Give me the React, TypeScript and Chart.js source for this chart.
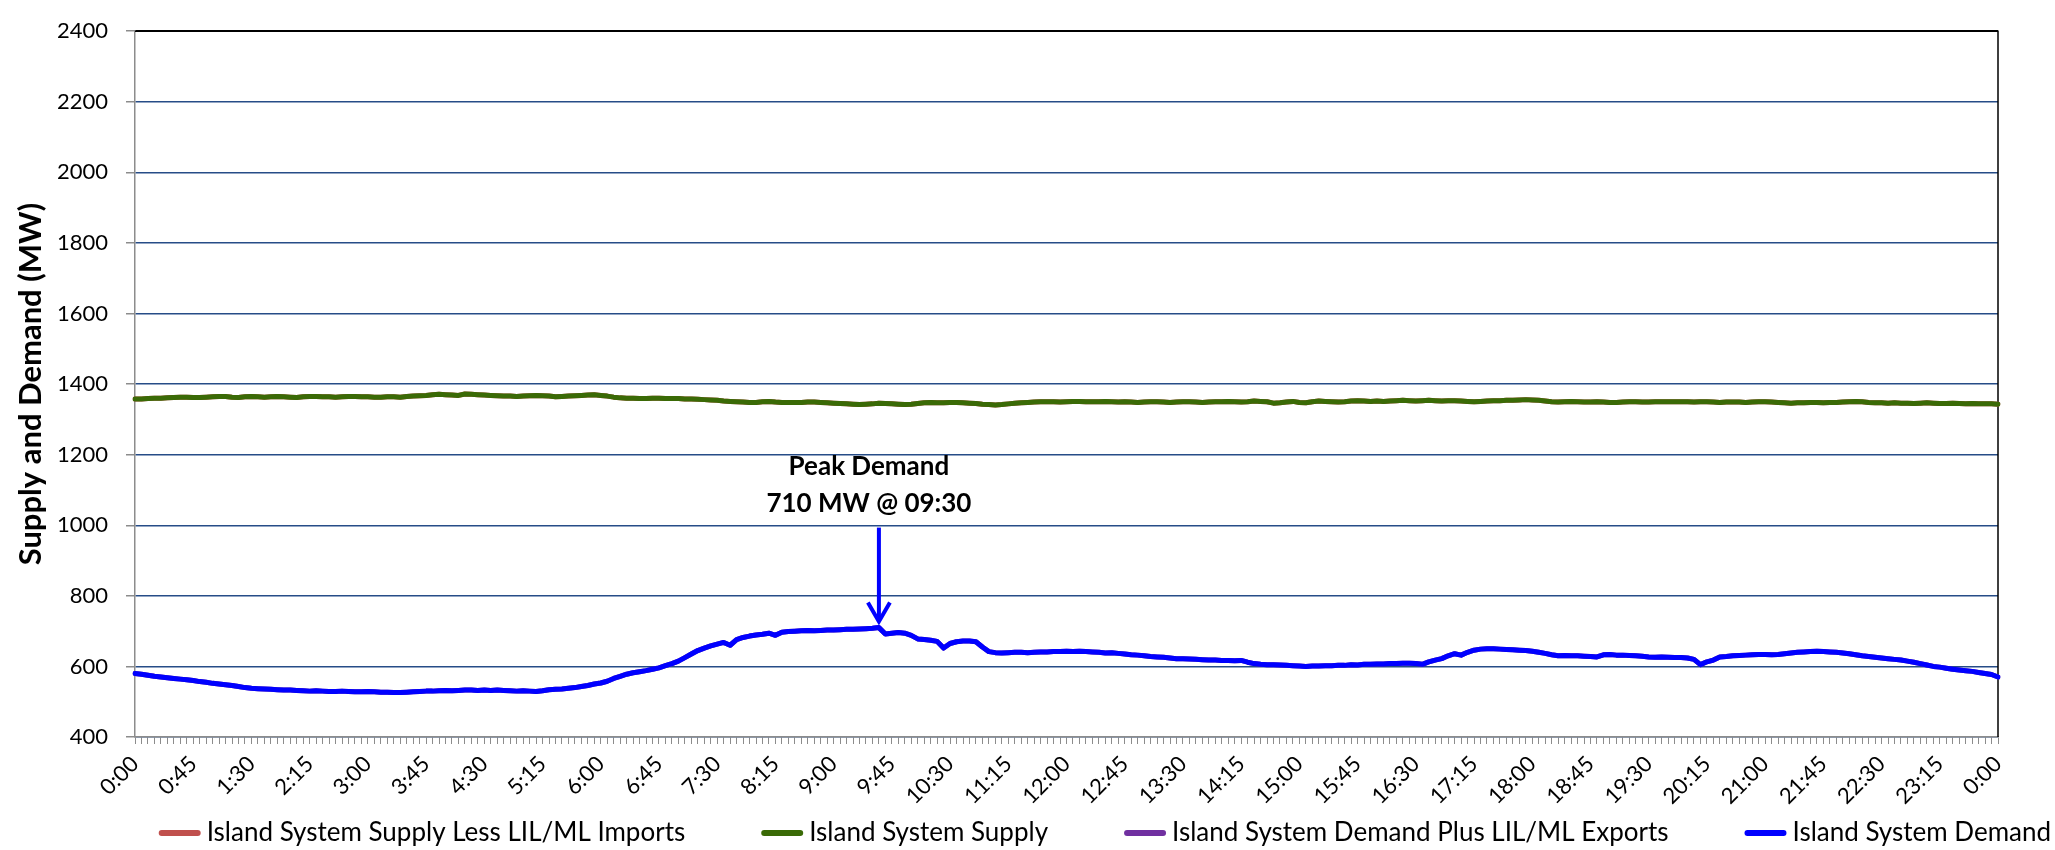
import React, { useEffect, useRef } from 'react';
import { Chart, registerables } from 'chart.js';

Chart.register(...registerables);

const FONT = "Lato, 'Noto Sans', sans-serif";

const SERIES_NAMES = [
  'Island System Supply Less LIL/ML Imports',
  'Island System Supply',
  'Island System Demand Plus LIL/ML Exports',
  'Island System Demand',
];
const SERIES_COLORS = ['#C0504D', '#3A6A06', '#7030A0', '#0000FF'];

const TICK_LABELS = [
  '0:00', '0:45', '1:30', '2:15', '3:00', '3:45', '4:30', '5:15', '6:00', '6:45', '7:30',
  '8:15', '9:00', '9:45', '10:30', '11:15', '12:00', '12:45', '13:30', '14:15', '15:00',
  '15:45', '16:30', '17:15', '18:00', '18:45', '19:30', '20:15', '21:00', '21:45', '22:30',
  '23:15', '0:00',
];
const LABEL_EVERY = 9; // one label every 45 minutes (9 five-minute steps)

const Y_MIN = 400;
const Y_MAX = 2400;
const Y_STEP = 200;
const Y_TITLE = 'Supply and Demand (MW)';

const PEAK_TITLE = 'Peak Demand';
const PEAK_TEXT = '710 MW @ 09:30';

// Five-minute values, one row per hour (12 per row) plus the closing midnight value.
const SUPPLY = [
  1358, 1358, 1359, 1360, 1360, 1361, 1362, 1363, 1363, 1362, 1362, 1363,
  1364, 1365, 1365, 1363, 1362, 1364, 1365, 1364, 1363, 1364, 1365, 1364,
  1363, 1362, 1364, 1365, 1365, 1364, 1364, 1363, 1364, 1365, 1365, 1364,
  1364, 1363, 1363, 1364, 1364, 1363, 1365, 1366, 1367, 1368, 1370, 1371,
  1370, 1369, 1368, 1372, 1371, 1370, 1369, 1368, 1367, 1366, 1366, 1365,
  1366, 1367, 1368, 1367, 1366, 1364, 1365, 1366, 1367, 1368, 1369, 1370,
  1368, 1366, 1363, 1361, 1360, 1360, 1359, 1359, 1360, 1360, 1359, 1359,
  1359, 1358, 1358, 1357, 1356, 1355, 1354, 1352, 1351, 1350, 1349, 1348,
  1348, 1350, 1351, 1349, 1348, 1348, 1348, 1348, 1349, 1349, 1348, 1347,
  1346, 1345, 1344, 1343, 1342, 1343, 1344, 1346, 1345, 1344, 1343, 1342,
  1343, 1345, 1347, 1348, 1347, 1347, 1348, 1348, 1347, 1346, 1345, 1343,
  1342, 1341, 1342, 1344, 1346, 1347, 1348, 1349, 1350, 1350, 1350, 1349,
  1350, 1351, 1351, 1350, 1350, 1350, 1351, 1350, 1349, 1350, 1349, 1348,
  1349, 1350, 1350, 1349, 1348, 1349, 1350, 1350, 1349, 1348, 1349, 1350,
  1350, 1351, 1350, 1349, 1350, 1352, 1351, 1350, 1346, 1347, 1349, 1351,
  1348, 1347, 1350, 1352, 1351, 1350, 1349, 1350, 1352, 1353, 1352, 1351,
  1352, 1351, 1352, 1353, 1354, 1353, 1352, 1353, 1354, 1353, 1352, 1353,
  1353, 1352, 1351, 1350, 1351, 1352, 1353, 1353, 1354, 1354, 1355, 1356,
  1355, 1354, 1352, 1350, 1349, 1350, 1351, 1350, 1349, 1349, 1350, 1349,
  1348, 1348, 1349, 1350, 1350, 1349, 1349, 1350, 1350, 1350, 1350, 1350,
  1350, 1349, 1350, 1350, 1349, 1348, 1349, 1349, 1349, 1348, 1349, 1350,
  1350, 1349, 1348, 1347, 1346, 1347, 1347, 1348, 1348, 1347, 1348, 1348,
  1349, 1350, 1351, 1350, 1348, 1347, 1347, 1346, 1347, 1346, 1346, 1345,
  1346, 1347, 1346, 1345, 1345, 1346, 1345, 1344, 1345, 1344, 1344, 1344,
  1343,
];

const DEMAND = [
  580, 578, 575, 572, 570, 568, 566, 564, 562, 560, 557, 555,
  552, 550, 548, 546, 543, 540, 538, 537, 536, 535, 534, 533,
  533, 532, 531, 530, 531, 530, 529, 529, 530, 529, 528, 528,
  529, 528, 527, 527, 526, 526, 527, 528, 529, 530, 530, 531,
  532, 531, 532, 533, 533, 532, 533, 532, 533, 532, 531, 530,
  531, 530, 529, 531, 534, 535, 536, 538, 540, 543, 546, 550,
  553, 558, 566, 572, 578, 582, 585, 588, 592, 596, 602, 608,
  615, 625, 635, 645, 652, 658, 663, 668, 660, 676, 682, 686,
  689, 691, 694, 688, 697, 699, 700, 701, 702, 701, 702, 703,
  703, 704, 705, 705, 706, 707, 708, 710, 692, 694, 696, 694,
  688, 678, 676, 674, 671, 652, 665, 670, 672, 672, 670, 655,
  642, 639, 638, 639, 640, 640, 639, 640, 641, 641, 642, 642,
  643, 642, 643, 642, 641, 640, 638, 639, 637, 635, 633, 632,
  630, 628, 627, 626, 624, 622, 622, 621, 620, 619, 618, 618,
  617, 617, 616, 617, 612, 608, 606, 605, 605, 604, 603, 602,
  601, 600, 601, 601, 602, 602, 603, 603, 605, 604, 606, 606,
  607, 607, 608, 608, 609, 609, 608, 606, 613, 618, 622, 630,
  636, 632, 640, 646, 649, 650, 650, 649, 648, 647, 646, 645,
  643, 640, 637, 633, 630, 631, 630, 630, 629, 628, 627, 633,
  634, 632, 632, 631, 630, 629, 627, 626, 627, 626, 625, 625,
  624, 620, 605, 613, 618, 627, 628, 630, 631, 632, 633, 634,
  634, 633, 634, 636, 638, 640, 641, 642, 643, 642, 641, 640,
  638, 636, 633, 630, 628, 626, 624, 622, 620, 618, 615, 612,
  608, 604, 600, 598, 595, 592, 590, 588, 586, 583, 580, 577,
  570,
];

// Supply less imports equals supply, demand plus exports equals demand (no transfers).
const SUPPLY_LESS_IMPORTS = SUPPLY;
const DEMAND_PLUS_EXPORTS = DEMAND;

const CATEGORIES: string[] = DEMAND.map((_, i) => {
  const m = (i * 5) % 1440;
  return `${Math.floor(m / 60)}:${String(m % 60).padStart(2, '0')}`;
});

const borderPlugin = {
  id: 'plotBorder',
  beforeDatasetsDraw(chart: any) {
    const { ctx, chartArea } = chart;
    ctx.save();
    ctx.strokeStyle = '#000000';
    ctx.lineWidth = 1.5;
    ctx.beginPath();
    ctx.moveTo(chartArea.left, chartArea.top);
    ctx.lineTo(chartArea.right, chartArea.top);
    ctx.lineTo(chartArea.right, chartArea.bottom);
    ctx.stroke();
    ctx.restore();
  },
};

const peakPlugin = {
  id: 'peakNote',
  afterDatasetsDraw(chart: any) {
    const { ctx } = chart;
    const dsIndex = 3;
    const values = chart.data.datasets[dsIndex].data as number[];
    const peakIdx = values.indexOf(Math.max(...values));
    const pt = chart.getDatasetMeta(dsIndex).data[peakIdx];
    if (!pt) return;
    const x = pt.x;
    const tipY = pt.y - 6;
    const topY = tipY - 94;
    ctx.save();
    ctx.strokeStyle = '#0000FF';
    ctx.lineWidth = 4;
    ctx.beginPath();
    ctx.moveTo(x, topY);
    ctx.lineTo(x, tipY);
    ctx.stroke();
    ctx.beginPath();
    ctx.moveTo(x - 11, tipY - 19);
    ctx.lineTo(x, tipY);
    ctx.lineTo(x + 11, tipY - 19);
    ctx.stroke();
    ctx.fillStyle = '#000000';
    ctx.font = `bold 26px ${FONT}`;
    ctx.textAlign = 'center';
    ctx.textBaseline = 'middle';
    ctx.fillText(PEAK_TITLE, x - 10, topY - 61);
    ctx.fillText(PEAK_TEXT, x - 10, topY - 24);
    ctx.restore();
  },
};

const legendPlugin = {
  id: 'rowLegend',
  afterDraw(chart: any) {
    const { ctx } = chart;
    const lineLen = 42;
    const lineGap = 6;
    const itemGap = 76;
    ctx.save();
    ctx.font = `26px ${FONT}`;
    const items = chart.data.datasets.map((ds: any) => ({ text: ds.label, color: ds.borderColor }));
    const widths = items.map((it: any) => lineLen + lineGap + ctx.measureText(it.text).width);
    const total = widths.reduce((a: number, b: number) => a + b, 0) + itemGap * (items.length - 1);
    let x = chart.width - 4 - total;
    const y = chart.height - 17;
    items.forEach((it: any, i: number) => {
      ctx.strokeStyle = it.color;
      ctx.lineWidth = 6;
      ctx.lineCap = 'round';
      ctx.beginPath();
      ctx.moveTo(x + 3, y);
      ctx.lineTo(x + lineLen - 3, y);
      ctx.stroke();
      ctx.fillStyle = '#000000';
      ctx.textAlign = 'left';
      ctx.textBaseline = 'middle';
      ctx.fillText(it.text, x + lineLen + lineGap, y);
      x += widths[i] + itemGap;
    });
    ctx.restore();
  },
};

export default function App() {
  const canvasRef = useRef<HTMLCanvasElement | null>(null);

  useEffect(() => {
    document.body.style.margin = '0';
    const canvas = canvasRef.current;
    if (!canvas) return;
    const seriesData = [SUPPLY_LESS_IMPORTS, SUPPLY, DEMAND_PLUS_EXPORTS, DEMAND];
    const drawOrder = [3, 2, 1, 0];
    const chart = new Chart(canvas, {
      type: 'line',
      data: {
        labels: CATEGORIES,
        datasets: SERIES_NAMES.map((name, i) => ({
          label: name,
          data: seriesData[i],
          borderColor: SERIES_COLORS[i],
          backgroundColor: SERIES_COLORS[i],
          borderWidth: 5,
          pointRadius: 0,
          tension: 0,
          fill: false,
          borderJoinStyle: 'round' as const,
          borderCapStyle: 'round' as const,
          order: drawOrder[i],
        })),
      },
      options: {
        animation: false,
        responsive: true,
        maintainAspectRatio: false,
        devicePixelRatio: 1,
        layout: { padding: { top: 29, right: 57, bottom: 38, left: 0 } },
        plugins: {
          legend: { display: false },
          tooltip: { enabled: false },
        },
        scales: {
          x: {
            type: 'category',
            offset: false,
            grid: {
              display: true,
              drawOnChartArea: false,
              drawTicks: true,
              tickLength: 7,
              color: '#8C8C8C',
              lineWidth: 1,
            },
            border: { display: true, color: '#8C8C8C', width: 1.5 },
            ticks: {
              autoSkip: false,
              maxRotation: 45,
              minRotation: 45,
              padding: 7,
              color: '#000000',
              font: { family: FONT, size: 22 },
              callback: (_v: any, index: number) =>
                index % LABEL_EVERY === 0 ? TICK_LABELS[index / LABEL_EVERY] : '',
            },
            afterFit: (scale: any) => {
              scale.height = 75;
            },
          },
          y: {
            min: Y_MIN,
            max: Y_MAX,
            ticks: {
              stepSize: Y_STEP,
              padding: 18,
              color: '#000000',
              font: { family: FONT, size: 22 },
              callback: (v: any) => String(v),
            },
            grid: {
              color: (c: any) => (c.tick && c.tick.value === Y_MAX ? '#000000' : '#264C87'),
              lineWidth: 1.5,
              tickLength: 9,
              tickColor: '#8C8C8C',
              drawTicks: true,
            },
            border: { display: true, color: '#8C8C8C', width: 1.5 },
            title: {
              display: true,
              text: Y_TITLE,
              color: '#000000',
              font: { family: FONT, size: 31, weight: 'bold' },
              padding: { top: 12, bottom: 0 },
            },
            afterFit: (scale: any) => {
              scale.width = 135;
            },
          },
        },
      },
      plugins: [borderPlugin, peakPlugin, legendPlugin],
    });
    return () => chart.destroy();
  }, []);

  return (
    <div style={{ width: '2055px', height: '850px', position: 'relative', background: '#ffffff' }}>
      <canvas ref={canvasRef} />
    </div>
  );
}
